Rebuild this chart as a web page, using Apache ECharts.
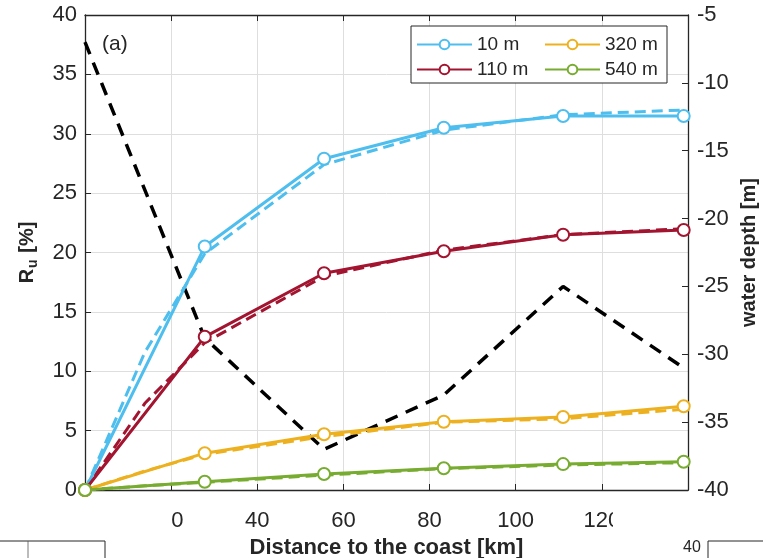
<!DOCTYPE html>
<html>
<head>
<meta charset="utf-8">
<script src="https://cdn.jsdelivr.net/npm/echarts@6/dist/echarts.min.js"></script>
<style>
html,body{margin:0;padding:0;background:#fff;}
#chart{width:763px;height:558px;}
</style>
</head>
<body>
<div id="chart"></div>
<script>
// ---- data ----
var distance = [0, 27.8, 55.5, 83.3, 111, 139];
var distanceDashed = [0, 13.9, 27.8, 55.5, 83.3, 111, 139];
var seriesNames = ['10 m', '110 m', '320 m', '540 m'];
var ru10 = [0, 20.5, 27.9, 30.5, 31.5, 31.5];
var ru10Dashed = [0, 11.6, 19.9, 27.4, 30.3, 31.6, 32.0];
var ru110 = [0, 12.9, 18.25, 20.1, 21.5, 21.9];
var ru110Dashed = [0, 7.3, 12.4, 18.0, 20.2, 21.5, 22.0];
var ru320 = [0, 3.1, 4.7, 5.75, 6.15, 7.05];
var ru320Dashed = [0, 1.6, 3.0, 4.5, 5.7, 6.0, 6.8];
var ru540 = [0, 0.7, 1.35, 1.83, 2.18, 2.38];
var ru540Dashed = [0, 0.35, 0.65, 1.25, 1.8, 2.1, 2.3];
var waterDepth = [-7, -28.8, -37, -33, -25, -31];
var xTicks = [0, 20, 40, 60, 80, 100, 120, 140];
var leftTicks = [0, 5, 10, 15, 20, 25, 30, 35, 40];
var rightTicks = [-40, -35, -30, -25, -20, -15, -10, -5];

var colors = ['#4DBEEE', '#A2142F', '#EDB120', '#77AC30'];
var FONT = 'Liberation Sans, Arial, sans-serif';
var AX = '#262626';

function pairs(xs, ys) { return xs.map(function (x, i) { return [x, ys[i]]; }); }

var solidData = [ru10, ru110, ru320, ru540];
var dashedData = [ru10Dashed, ru110Dashed, ru320Dashed, ru540Dashed];

var series = [];
series.push({
  name: 'depth', type: 'line', yAxisIndex: 1, data: pairs(distance, waterDepth),
  showSymbol: false, symbol: 'none', z: 1,
  lineStyle: { color: '#000', width: 3.5, type: [13, 9] }
});
for (var i = 0; i < 4; i++) {
  series.push({
    name: seriesNames[i] + ' model', type: 'line', data: pairs(distanceDashed, dashedData[i]),
    symbol: 'none', z: 2,
    lineStyle: { color: colors[i], width: 3, type: [11, 6] }
  });
}
for (var j = 0; j < 4; j++) {
  series.push({
    name: seriesNames[j], type: 'line', data: pairs(distance, solidData[j]),
    symbol: 'emptyCircle', symbolSize: 12, z: 3,
    itemStyle: { color: colors[j], borderWidth: 2.6, borderColor: colors[j] },
    lineStyle: { color: colors[j], width: 3 }
  });
}

var chart = echarts.init(document.getElementById('chart'), null, { renderer: 'canvas' });
var legendCommon = {
  orient: 'vertical', itemWidth: 55, itemHeight: 12, itemGap: 6,
  padding: 0, z: 10,
  textStyle: { fontSize: 19, color: AX, fontFamily: FONT }
};
chart.setOption({
  animation: false,
  backgroundColor: '#fff',
  title: {
    text: '(a)', left: 97, top: 29,
    textStyle: { fontSize: 21, fontWeight: 'normal', color: AX, fontFamily: FONT }
  },
  legend: [
    Object.assign({}, legendCommon, { data: ['10 m', '110 m'], left: 416, top: 35 }),
    Object.assign({}, legendCommon, { data: ['320 m', '540 m'], left: 544, top: 35 })
  ],
  grid: { left: 85, right: 75, top: 15, bottom: 68, containLabel: false, outerBoundsMode: 'none' },
  xAxis: [{
    type: 'value', min: 0, max: 140, interval: 20, position: 'bottom',
    name: 'Distance to the coast [km]', nameLocation: 'middle', nameGap: 47,
    nameTextStyle: { fontSize: 22, fontWeight: 'bold', color: AX, fontFamily: FONT },
    axisLine: { show: true, onZero: false, lineStyle: { color: AX, width: 1.3 } },
    axisTick: { show: true, inside: true, length: 6, lineStyle: { color: AX } },
    axisLabel: { fontSize: 22, color: AX, fontFamily: FONT, margin: 20 },
    splitLine: { show: true, lineStyle: { color: '#dedede', width: 1 } }
  }, {
    type: 'value', min: 0, max: 140, interval: 20, position: 'top',
    axisLine: { show: true, onZero: false, lineStyle: { color: AX, width: 1.3 } },
    axisTick: { show: true, inside: true, length: 6, lineStyle: { color: AX } },
    axisLabel: { show: false }, splitLine: { show: false }
  }],
  yAxis: [{
    type: 'value', min: 0, max: 40, interval: 5, position: 'left',
    name: '{b|R}{s|u}{b| [%]}', nameLocation: 'middle', nameGap: 45, nameRotate: 90,
    nameTextStyle: {
      color: AX, fontFamily: FONT,
      rich: {
        b: { fontSize: 20, fontWeight: 'bold', color: AX, fontFamily: FONT },
        s: { fontSize: 14, fontWeight: 'bold', color: AX, fontFamily: FONT, padding: [12, 1, 0, 1] }
      }
    },
    axisLine: { show: true, onZero: false, lineStyle: { color: AX, width: 1.3 } },
    axisTick: { show: true, inside: true, length: 6, lineStyle: { color: AX } },
    axisLabel: { fontSize: 22, color: AX, fontFamily: FONT, margin: 8 },
    splitLine: { show: true, lineStyle: { color: '#dedede', width: 1 } }
  }, {
    type: 'value', min: -40, max: -5, interval: 5, position: 'right',
    name: 'water depth [m]', nameLocation: 'middle', nameGap: 48, nameRotate: 90,
    nameTextStyle: { fontSize: 20, fontWeight: 'bold', color: AX, fontFamily: FONT },
    axisLine: { show: true, onZero: false, lineStyle: { color: AX, width: 1.3 } },
    axisTick: { show: true, inside: true, length: 6, lineStyle: { color: AX } },
    axisLabel: { fontSize: 22, color: AX, fontFamily: FONT, margin: 9 },
    splitLine: { show: false }
  }],
  graphic: [
    // legend box (background + border drawn beneath legend items)
    { type: 'rect', shape: { x: 411, y: 26, width: 256, height: 57 }, z: 2,
      style: { fill: '#fff', stroke: '#262626', lineWidth: 1 } },
    // cropping artifacts covering parts of the x tick labels
    { type: 'rect', shape: { x: 60, y: 512, width: 111, height: 24 }, z: 100,
      style: { fill: '#fff' } },
    { type: 'rect', shape: { x: 613, y: 511, width: 110, height: 25 }, z: 100,
      style: { fill: '#fff' } },
    // neighbouring panels at the bottom edge
    { type: 'polyline', shape: { points: [[0, 541], [105, 541], [105, 558]] }, z: 100,
      style: { stroke: '#262626', lineWidth: 1, fill: null } },
    { type: 'line', shape: { x1: 28, y1: 541, x2: 28, y2: 558 }, z: 100,
      style: { stroke: '#555', lineWidth: 0.8 } },
    { type: 'polyline', shape: { points: [[763, 541], [708, 541], [708, 558]] }, z: 100,
      style: { stroke: '#262626', lineWidth: 1, fill: null } },
    { type: 'text', x: 683, y: 540, z: 100,
      style: { text: '40', fontSize: 16, fill: AX, fontFamily: FONT } }
  ],
  series: series
});
</script>
</body>
</html>
